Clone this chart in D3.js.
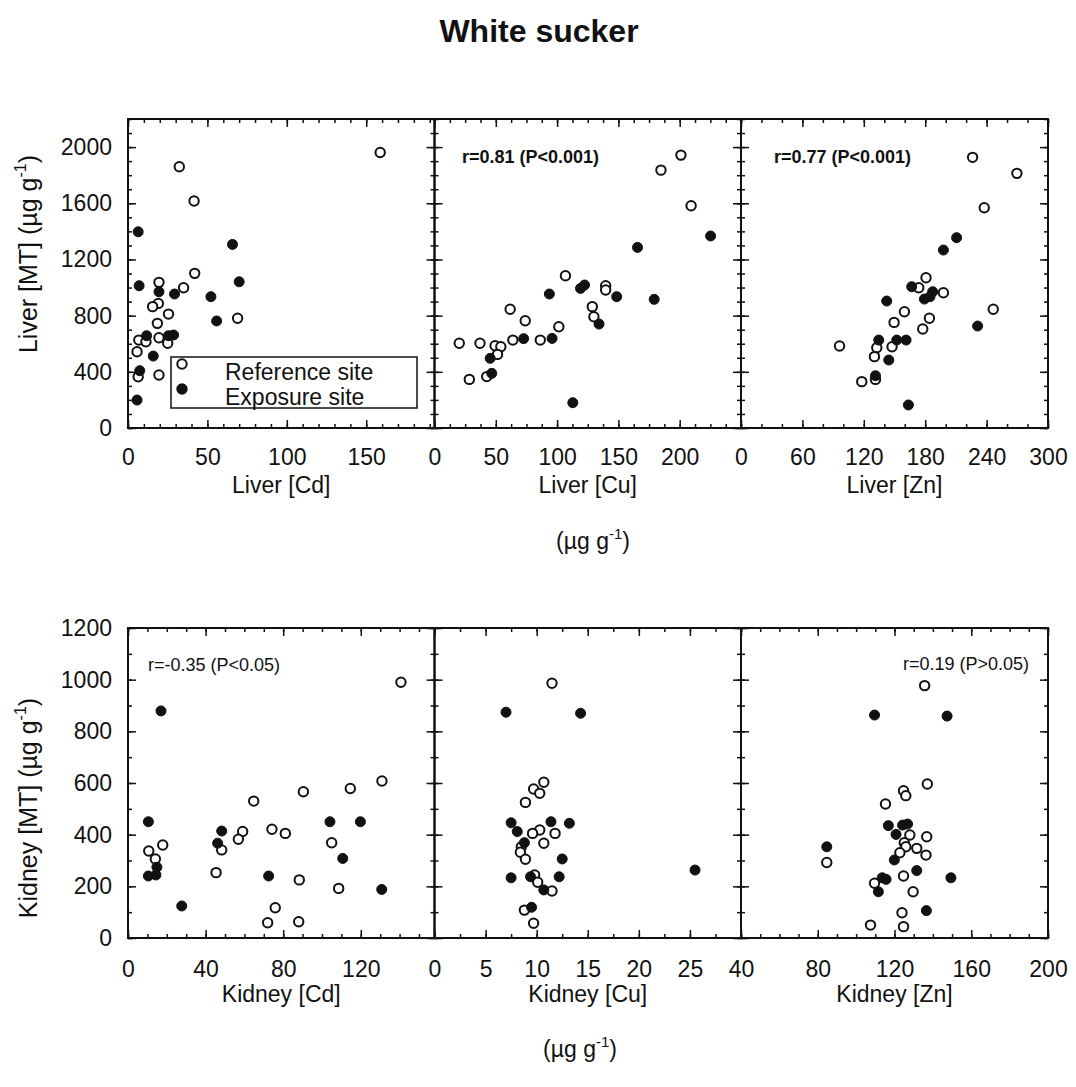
<!DOCTYPE html>
<html>
<head>
<meta charset="utf-8">
<script src="https://cdn.jsdelivr.net/npm/d3@7"></script>
<style>
  body { margin: 0; background: #fff; }
  svg { font-family: "Liberation Sans", Arial, sans-serif; }
</style>
</head>
<body>
<svg id="chart" width="1076" height="1087"></svg>
<script>
// Values: [metal, MT] pairs
const liverCdRef = [[158.8,1962],[32.3,1860],[41.6,1616],[42,1101],[35,999],[19.5,1037],[19.1,887],[15.5,864],[25.5,811],[18.5,745],[19.5,643],[25,603],[6.8,626],[11.3,614],[5.7,543],[6.4,365],[19.5,377],[69,781]];
const liverCdExp = [[6.4,1397],[7,1013],[19.5,970],[29.3,954],[52.2,935],[55.8,762],[65.8,1307],[70,1041],[11.7,657],[25.5,657],[28.7,662],[15.9,512],[7.4,408],[5.7,199]];

const liverCuRef = [[201,1943],[184.7,1836],[209.3,1582],[106.8,1084],[139.6,1013],[139.6,982],[128.7,864],[130,792],[101.4,721],[61.7,845],[74,764],[63.9,626],[86.3,626],[20.2,603],[37.1,603],[49.4,586],[54.1,579],[51.4,524],[28.4,346],[42.6,366]];
const liverCuExp = [[225.2,1367],[165.6,1286],[179.2,916],[148.6,935],[119.1,994],[122.4,1018],[93.7,954],[134.2,740],[95.9,638],[72.7,636],[45.4,496],[46.7,389],[112.8,180]];

const liverZnRef = [[226.3,1927],[269.6,1813],[237.7,1568],[180.8,1070],[173.7,999],[197.8,963],[159.7,828],[149.6,752],[184.1,781],[177.6,705],[246.5,845],[96.3,584],[132.7,572],[147.6,579],[130.4,508],[118,330],[131.4,346]];
const liverZnExp = [[210.7,1355],[197.8,1267],[166.8,1006],[179.2,918],[187.3,970],[184.7,935],[142.4,904],[231.2,726],[134.6,626],[152.2,626],[161.3,626],[144.4,484],[131.4,372],[163.6,164]];

const kidneyCdRef = [[140.7,990],[130.9,608],[114.6,579],[90.4,566],[64.8,530],[59.1,412],[56.9,382],[74.2,421],[81.1,405],[105,369],[48.3,341],[45.4,253],[88.3,225],[108.6,192],[75.9,117],[72,59],[88,63],[17.9,360],[10.7,337],[14.1,306]];
const kidneyCdExp = [[17,879],[10.5,450],[48.3,414],[46.2,367],[104.1,450],[119.8,450],[110.7,308],[72.5,240],[130.8,188],[27.7,124],[14.9,274],[10.5,240],[14.4,244]];

const kidneyCuRef = [[11.5,986],[10.7,603],[9.7,577],[10.3,560],[8.9,525],[10.3,418],[9.6,405],[11.8,405],[10.7,367],[8.5,353],[8.4,332],[8.9,305],[9.8,244],[10.1,216],[11.5,182],[8.8,108],[9.7,57]];
const kidneyCuExp = [[7,874],[14.3,870],[25.5,263],[7.5,446],[11.4,450],[13.2,444],[8.1,412],[8.8,369],[12.5,306],[7.5,233],[9.4,237],[12.2,237],[10.7,186],[9.5,119]];

const kidneyZnRef = [[135.7,977],[137.1,596],[124.7,570],[125.9,551],[115.3,519],[128,399],[136.8,392],[125.1,369],[125.9,353],[131.6,347],[122.8,330],[136.4,321],[84.7,292],[124.7,240],[109.6,212],[129.7,179],[123.9,98],[107.5,50],[124.7,44]];
const kidneyZnExp = [[109.6,863],[147.4,859],[84.7,353],[116.8,435],[124.2,437],[126.8,441],[120.8,401],[119.9,302],[131.6,261],[149.4,233],[113.6,233],[115.6,227],[111.6,179],[136.6,106]];

// tick values
const liverMTTicks = [0, 400, 800, 1200, 1600, 2000];
const kidneyMTTicks = [0, 200, 400, 600, 800, 1000, 1200];
const liverCdTicks = [0, 50, 100, 150];
const liverCuTicks = [0, 50, 100, 150, 200];
const liverZnTicks = [0, 60, 120, 180, 240, 300];
const kidneyCdTicks = [0, 40, 80, 120];
const kidneyCuTicks = [0, 5, 10, 15, 20, 25];
const kidneyZnTicks = [40, 80, 120, 160, 200];

const legendLabels = ["Reference site", "Exposure site"];

const svg = d3.select("#chart");
const INK = "#111";

// title
svg.append("text")
  .attr("x", 539).attr("y", 42)
  .attr("text-anchor", "middle")
  .attr("font-size", 32).attr("font-weight", "bold")
  .attr("fill", INK)
  .text("White sucker");

// column edges shared by both rows
const cols = [128, 434.5, 741, 1048];

const rows = [
  {
    top: 119, bottom: 428,
    yDomain: [0, 2200], yTicks: liverMTTicks, yMinor: 100,
    yTitle: "Liver [MT] (µg g", yTitleY: 254,
    xPad: 21, xTitleY: 493, unitY: 549, unitX: 593,
    panels: [
      { title: "Liver [Cd]", domain: [0, 193], ticks: liverCdTicks, minor: 10, ref: liverCdRef, exp: liverCdExp, legend: true },
      { title: "Liver [Cu]", domain: [0, 250], ticks: liverCuTicks, minor: 12.5, ref: liverCuRef, exp: liverCuExp,
        note: "r=0.81 (P<0.001)", noteX: 462, noteY: 163, bold: true },
      { title: "Liver [Zn]", domain: [0, 300], ticks: liverZnTicks, minor: 20, ref: liverZnRef, exp: liverZnExp,
        note: "r=0.77 (P<0.001)", noteX: 774, noteY: 163, bold: true }
    ]
  },
  {
    top: 628, bottom: 938,
    yDomain: [0, 1200], yTicks: kidneyMTTicks, yMinor: 100,
    yTitle: "Kidney [MT] (µg g", yTitleY: 808,
    xPad: 23, xTitleY: 1002, unitY: 1057, unitX: 580,
    panels: [
      { title: "Kidney [Cd]", domain: [0, 158], ticks: kidneyCdTicks, minor: 10, ref: kidneyCdRef, exp: kidneyCdExp,
        note: "r=-0.35 (P<0.05)", noteX: 148, noteY: 671 },
      { title: "Kidney [Cu]", domain: [0, 30], ticks: kidneyCuTicks, minor: 2.5, ref: kidneyCuRef, exp: kidneyCuExp },
      { title: "Kidney [Zn]", domain: [40, 200], ticks: kidneyZnTicks, minor: 10, ref: kidneyZnRef, exp: kidneyZnExp,
        note: "r=0.19 (P>0.05)", noteX: 903, noteY: 670 }
    ]
  }
];

function minorValues(domain, step) {
  const out = [];
  for (let v = Math.ceil(domain[0] / step) * step; v <= domain[1] + 1e-9; v += step) out.push(+v.toFixed(4));
  return out;
}

function styleAxis(g) {
  g.select(".domain").remove();
  g.selectAll("line").attr("stroke", INK).attr("stroke-width", 1.5);
  g.selectAll("text").attr("font-size", 23).attr("fill", INK).attr("font-family", null);
}

rows.forEach(row => {
  const y = d3.scaleLinear().domain(row.yDomain).range([row.bottom, row.top]);
  const yMinor = minorValues(row.yDomain, row.yMinor);

  row.panels.forEach((p, i) => {
    const x0 = cols[i], x1 = cols[i + 1];
    const x = d3.scaleLinear().domain(p.domain).range([x0, x1]);
    const xMinor = minorValues(p.domain, p.minor);
    const g = svg.append("g");

    // minor ticks (inward, all four sides)
    g.append("g").attr("transform", `translate(0,${row.bottom})`)
      .call(d3.axisBottom(x).tickValues(xMinor).tickSize(-4).tickFormat("")).call(styleAxis);
    g.append("g").attr("transform", `translate(0,${row.top})`)
      .call(d3.axisTop(x).tickValues(xMinor).tickSize(-4).tickFormat("")).call(styleAxis);
    g.append("g").attr("transform", `translate(${x0},0)`)
      .call(d3.axisLeft(y).tickValues(yMinor).tickSize(-4).tickFormat("")).call(styleAxis);
    g.append("g").attr("transform", `translate(${x1},0)`)
      .call(d3.axisRight(y).tickValues(yMinor).tickSize(-4).tickFormat("")).call(styleAxis);

    // major ticks with labels
    g.append("g").attr("transform", `translate(0,${row.bottom})`)
      .call(d3.axisBottom(x).tickValues(p.ticks).tickSize(-8).tickPadding(row.xPad).tickFormat(d3.format("d")))
      .call(styleAxis);
    g.append("g").attr("transform", `translate(0,${row.top})`)
      .call(d3.axisTop(x).tickValues(p.ticks).tickSize(-8).tickFormat("")).call(styleAxis);
    const left = d3.axisLeft(y).tickValues(row.yTicks).tickSize(-8).tickPadding(16);
    g.append("g").attr("transform", `translate(${x0},0)`)
      .call(i === 0 ? left.tickFormat(d3.format("d")) : left.tickFormat(""))
      .call(styleAxis);
    g.append("g").attr("transform", `translate(${x1},0)`)
      .call(d3.axisRight(y).tickValues(row.yTicks).tickSize(-8).tickFormat("")).call(styleAxis);

    // frame
    g.append("rect")
      .attr("x", x0).attr("y", row.top)
      .attr("width", x1 - x0).attr("height", row.bottom - row.top)
      .attr("fill", "none").attr("stroke", INK).attr("stroke-width", 2);

    // points: reference (open) then exposure (filled)
    g.selectAll(".ref").data(p.ref).join("circle")
      .attr("cx", d => x(d[0])).attr("cy", d => y(d[1])).attr("r", 4.7)
      .attr("fill", "#fff").attr("stroke", INK).attr("stroke-width", 2);
    g.selectAll(".exp").data(p.exp).join("circle")
      .attr("cx", d => x(d[0])).attr("cy", d => y(d[1])).attr("r", 5)
      .attr("fill", INK).attr("stroke", INK).attr("stroke-width", 1);

    // x title
    svg.append("text")
      .attr("x", (x0 + x1) / 2).attr("y", row.xTitleY)
      .attr("text-anchor", "middle").attr("font-size", 23).attr("fill", INK)
      .text(p.title);

    if (p.note) {
      svg.append("text")
        .attr("x", p.noteX).attr("y", p.noteY)
        .attr("font-size", 18).attr("font-weight", p.bold ? "bold" : "normal")
        .attr("fill", INK)
        .text(p.note);
    }

    if (p.legend) {
      const lg = svg.append("g");
      lg.append("rect")
        .attr("x", 171).attr("y", 357).attr("width", 246).attr("height", 51)
        .attr("fill", "#fff").attr("stroke", INK).attr("stroke-width", 1.5);
      legendLabels.forEach((lab, k) => {
        lg.append("circle")
          .attr("cx", 182).attr("cy", 364 + k * 25).attr("r", 4.7)
          .attr("fill", k === 0 ? "#fff" : INK).attr("stroke", INK).attr("stroke-width", 2);
        lg.append("text")
          .attr("x", 225).attr("y", 380 + k * 25)
          .attr("font-size", 23).attr("fill", INK)
          .text(lab);
      });
    }
  });

  // unit line under the middle column
  const unit = svg.append("text")
    .attr("x", row.unitX).attr("y", row.unitY)
    .attr("text-anchor", "middle").attr("font-size", 23).attr("fill", INK);
  unit.append("tspan").text("(µg g");
  unit.append("tspan").attr("font-size", 15).attr("dy", -10).text("-1");
  unit.append("tspan").attr("dy", 10).text(")");

  // y title
  const yt = svg.append("text")
    .attr("transform", `translate(37,${row.yTitleY}) rotate(-90)`)
    .attr("text-anchor", "middle").attr("font-size", 25).attr("fill", INK);
  yt.append("tspan").text(row.yTitle);
  yt.append("tspan").attr("font-size", 16).attr("dy", -11).text("-1");
  yt.append("tspan").attr("dy", 11).text(")");
});
</script>
</body>
</html>
